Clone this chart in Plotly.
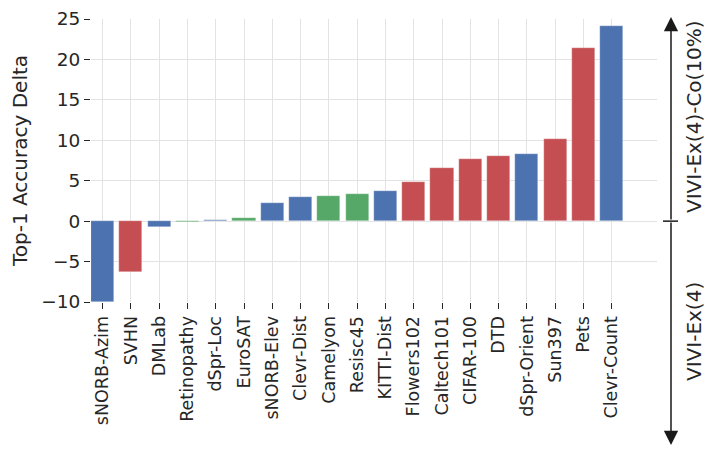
import plotly.graph_objects as go

categories = ["sNORB-Azim", "SVHN", "DMLab", "Retinopathy", "dSpr-Loc", "EuroSAT",
              "sNORB-Elev", "Clevr-Dist", "Camelyon", "Resisc45", "KITTI-Dist",
              "Flowers102", "Caltech101", "CIFAR-100", "DTD", "dSpr-Orient",
              "Sun397", "Pets", "Clevr-Count"]
values = [-10.0, -6.3, -0.7, -0.15, 0.2, 0.37, 2.23, 2.97, 3.17, 3.34, 3.67,
          4.87, 6.56, 7.63, 8.04, 8.29, 10.1, 21.37, 24.17]
groups = ["structured", "natural", "structured", "specialized", "structured", "specialized",
          "structured", "structured", "specialized", "specialized", "structured",
          "natural", "natural", "natural", "natural", "structured",
          "natural", "natural", "structured"]
group_colors = {"natural": "#C44E52", "specialized": "#55A868", "structured": "#4C72B0"}
y_ticks = [-10, -5, 0, 5, 10, 15, 20, 25]
upper_label = "VIVI-Ex(4)-Co(10%)"
lower_label = "VIVI-Ex(4)"

FONT = "DejaVu Sans"
TXT = "#262626"

# page body has an 8px default margin; compensate
OFF = 8
PL, PT, PR, PB = 91, 19, 657, 302  # plot area in screen pixels
W, H = 714 - OFF, 453 - OFF
PW, PH = PR - PL, PB - PT

fig = go.Figure()
fig.add_trace(go.Bar(
    x=list(range(len(categories))), y=values,
    marker=dict(color=[group_colors[g] for g in groups], line=dict(color="rgba(255,255,255,0.6)", width=0.5)),
    width=0.82, showlegend=False,
))

fig.update_layout(
    width=W, height=H,
    margin=dict(l=PL - OFF, r=W - (PR - OFF), t=PT - OFF, b=H - (PB - OFF), pad=0),
    paper_bgcolor="white", plot_bgcolor="white",
    font=dict(family=FONT, size=18, color=TXT),
    xaxis=dict(
        range=[-0.41, 19.6], automargin=False,
        tickmode="array", tickvals=list(range(len(categories))), ticktext=categories,
        tickangle=-90, ticks="outside", ticklen=6, tickcolor=TXT, tickwidth=1.2,
        showgrid=True, gridcolor="#e3e3e3", gridwidth=1,
        tickfont=dict(family=FONT, size=17.5, color=TXT),
        showline=False, zeroline=False,
    ),
    yaxis=dict(
        range=[-10, 25], tickmode="array", tickvals=y_ticks, automargin=False,
        ticks="outside", ticklen=6, tickcolor=TXT, tickwidth=1.2,
        showgrid=True, gridcolor="#e3e3e3", gridwidth=1,
        zeroline=False, showline=False,
        tickfont=dict(family=FONT, size=18.5, color=TXT),
        title=dict(text="Top-1 Accuracy Delta", font=dict(family=FONT, size=20, color=TXT), standoff=10),
    ),
    bargap=0,
)

# right-hand arrow annotations
xa = (671 - PL) / PW
fig.add_annotation(x=xa, y=(PB - 17) / PH, xref="paper", yref="paper", ax=0, ay=221 - 17,
                   axref="pixel", ayref="pixel", text="", showarrow=True,
                   arrowhead=2, arrowsize=1.9, arrowwidth=1.5, arrowcolor="#1a1a1a")
fig.add_annotation(x=xa, y=(PB - 445) / PH, xref="paper", yref="paper", ax=0, ay=-(445 - 221),
                   axref="pixel", ayref="pixel", text="", showarrow=True,
                   arrowhead=2, arrowsize=1.9, arrowwidth=1.5, arrowcolor="#1a1a1a")
fig.add_shape(type="line", xref="paper", yref="y", x0=(663 - PL) / PW, x1=(678 - PL) / PW,
              y0=0, y1=0, line=dict(color="#1a1a1a", width=1.5))
fig.add_annotation(x=(694 - PL) / PW, y=(PB - 117) / PH, xref="paper", yref="paper",
                   xanchor="center", yanchor="middle",
                   text=upper_label, textangle=-90, showarrow=False,
                   font=dict(family=FONT, size=20, color=TXT))
fig.add_annotation(x=(694 - PL) / PW, y=(PB - 332) / PH, xref="paper", yref="paper",
                   xanchor="center", yanchor="middle",
                   text=lower_label, textangle=-90, showarrow=False,
                   font=dict(family=FONT, size=20, color=TXT))

fig.write_html("out.html")
